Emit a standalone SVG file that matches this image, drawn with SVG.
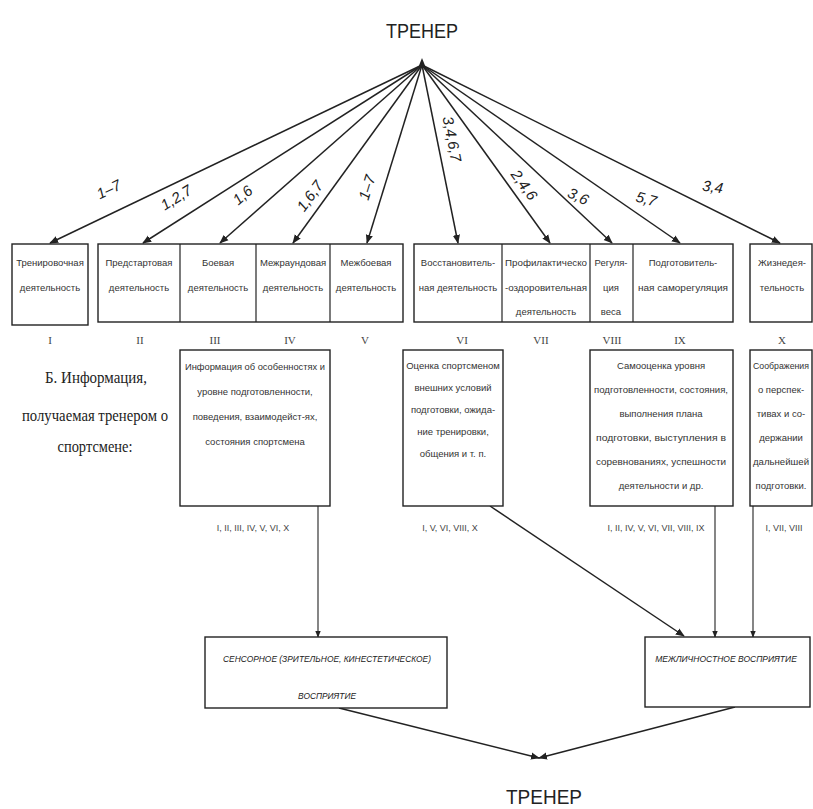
<svg xmlns="http://www.w3.org/2000/svg" width="813" height="809" viewBox="0 0 813 809">
<style>
.bx{fill:#fff;stroke:#222;stroke-width:1.4}
.dv{stroke:#222;stroke-width:1.2}
.t{font-family:"Liberation Sans",Arial,sans-serif;font-size:9.5px;fill:#333;text-anchor:middle}
.rn{font-family:"Liberation Serif",serif;font-size:11px;fill:#444;text-anchor:middle}
.cap{font-family:"Liberation Sans",Arial,sans-serif;font-size:9px;fill:#444;text-anchor:middle}
.lb{font-family:"Liberation Sans",Arial,sans-serif;font-size:15px;font-style:italic;fill:#222;text-anchor:middle}
.tr{font-family:"Liberation Sans",Arial,sans-serif;font-size:21px;fill:#222;text-anchor:middle}
.bi{font-family:"Liberation Sans",Arial,sans-serif;font-size:9.5px;font-style:italic;fill:#222;text-anchor:middle}
.big{font-family:"Liberation Serif",serif;font-size:17px;fill:#222;text-anchor:middle}
.c{stroke:#222;stroke-width:1.5;fill:none}
.c2{stroke:#222;stroke-width:1.1;fill:none}
</style>
<defs>
<marker id="ah" viewBox="0 0 10 10" refX="9" refY="5" markerWidth="7" markerHeight="7" markerUnits="userSpaceOnUse" orient="auto">
<path d="M0,1 L10,5 L0,9 z" fill="#222"/>
</marker>
<marker id="ahl" viewBox="0 0 10 10" refX="9" refY="5" markerWidth="9" markerHeight="9" markerUnits="userSpaceOnUse" orient="auto">
<path d="M0,1 L10,5 L0,9 z" fill="#222"/>
</marker>
</defs>

<g id="trener-top"><text class="tr" x="422" y="38" textLength="72" lengthAdjust="spacingAndGlyphs">ТРЕНЕР</text></g>

<g id="connectors">
<g id="top-arrows">
<line class="c" x1="422" y1="65" x2="50" y2="243" marker-end="url(#ahl)"/>
<line class="c" x1="422" y1="65" x2="143" y2="243" marker-end="url(#ahl)"/>
<line class="c" x1="422" y1="65" x2="220" y2="243" marker-end="url(#ahl)"/>
<line class="c" x1="422" y1="65" x2="293" y2="243" marker-end="url(#ahl)"/>
<line class="c" x1="422" y1="65" x2="367" y2="243" marker-end="url(#ahl)"/>
<line class="c" x1="422" y1="65" x2="458" y2="243" marker-end="url(#ahl)"/>
<line class="c" x1="422" y1="65" x2="550" y2="243" marker-end="url(#ahl)"/>
<line class="c" x1="422" y1="65" x2="612" y2="243" marker-end="url(#ahl)"/>
<line class="c" x1="422" y1="65" x2="680" y2="243" marker-end="url(#ahl)"/>
<line class="c" x1="422" y1="65" x2="780" y2="243" marker-end="url(#ahl)"/>
<path d="M418,68 L422,58 L426,68 z" fill="#222"/>
</g>
<g id="arrow-labels">
<text class="lb" transform="translate(111,194) rotate(-26)">1–7</text>
<text class="lb" transform="translate(179,202) rotate(-32)">1,2,7</text>
<text class="lb" transform="translate(246,199) rotate(-41)">1,6</text>
<text class="lb" transform="translate(314,199) rotate(-54)">1,6,7</text>
<text class="lb" transform="translate(372,189) rotate(-73)">1–7</text>
<text class="lb" transform="translate(447,140) rotate(79)">3,4,6,7</text>
<text class="lb" transform="translate(520,188) rotate(54)">2,4,6</text>
<text class="lb" transform="translate(576,201) rotate(25)">3,6</text>
<text class="lb" transform="translate(645,204) rotate(15)">5,7</text>
<text class="lb" transform="translate(712,192) rotate(8)">3,4</text>
</g>
<g id="lower-arrows">
<line class="c2" x1="318" y1="506" x2="318" y2="637" marker-end="url(#ah)"/>
<line class="c" x1="490" y1="506" x2="684" y2="636" marker-end="url(#ahl)"/>
<line class="c2" x1="715" y1="506" x2="715" y2="637" marker-end="url(#ah)"/>
<line class="c2" x1="753" y1="506" x2="753" y2="637" marker-end="url(#ah)"/>
<line class="c" x1="339" y1="708" x2="539" y2="758" marker-end="url(#ahl)"/>
<line class="c" x1="735" y1="707" x2="539" y2="758" marker-end="url(#ahl)"/>
</g>
</g>

<g id="node-I">
<rect class="bx" x="12" y="244" width="76" height="81"/>
<text class="t" x="50" y="266">Тренировочная</text>
<text class="t" x="50" y="291">деятельность</text>
<text class="rn" x="50" y="344">I</text>
</g>
<g id="nodes-II-V">
<rect class="bx" x="98" y="244" width="305" height="78"/>
<line class="dv" x1="180" y1="244" x2="180" y2="322"/>
<line class="dv" x1="256" y1="244" x2="256" y2="322"/>
<line class="dv" x1="330" y1="244" x2="330" y2="322"/>
<g id="node-II"><text class="t" x="139" y="266">Предстартовая</text><text class="t" x="139" y="291">деятельность</text><text class="rn" x="140" y="344">II</text></g>
<g id="node-III"><text class="t" x="218" y="266">Боевая</text><text class="t" x="218" y="291">деятельность</text><text class="rn" x="215" y="344">III</text></g>
<g id="node-IV"><text class="t" x="293" y="266">Межраундовая</text><text class="t" x="293" y="291">деятельность</text><text class="rn" x="290" y="344">IV</text></g>
<g id="node-V"><text class="t" x="366" y="266">Межбоевая</text><text class="t" x="366" y="291">деятельность</text><text class="rn" x="365" y="344">V</text></g>
</g>
<g id="nodes-VI-IX">
<rect class="bx" x="414" y="244" width="319" height="78"/>
<line class="dv" x1="502" y1="244" x2="502" y2="322"/>
<line class="dv" x1="590" y1="244" x2="590" y2="322"/>
<line class="dv" x1="633" y1="244" x2="633" y2="322"/>
<g id="node-VI"><text class="t" x="458" y="266">Восстановитель-</text><text class="t" x="458" y="291">ная деятельность</text><text class="rn" x="462" y="344">VI</text></g>
<g id="node-VII"><text class="t" x="546" y="266" textLength="82" lengthAdjust="spacingAndGlyphs">Профилактическо</text><text class="t" x="546" y="291" textLength="82" lengthAdjust="spacingAndGlyphs">-оздоровительная</text><text class="t" x="546" y="315">деятельность</text><text class="rn" x="541" y="344">VII</text></g>
<g id="node-VIII"><text class="t" x="611" y="266">Регуля-</text><text class="t" x="611" y="291">ция</text><text class="t" x="611" y="315">веса</text><text class="rn" x="612" y="344">VIII</text></g>
<g id="node-IX"><text class="t" x="683" y="266">Подготовитель-</text><text class="t" x="683" y="291" textLength="90" lengthAdjust="spacingAndGlyphs">ная саморегуляция</text><text class="rn" x="680" y="344">IX</text></g>
</g>
<g id="node-X">
<rect class="bx" x="750" y="244" width="62" height="78"/>
<text class="t" x="782" y="266">Жизнедея-</text>
<text class="t" x="782" y="291">тельность</text>
<text class="rn" x="782" y="344">X</text>
</g>

<g id="info-title">
<text class="big" x="96" y="383" textLength="102" lengthAdjust="spacingAndGlyphs">Б. Информация,</text>
<text class="big" x="95" y="421" textLength="146" lengthAdjust="spacingAndGlyphs">получаемая тренером о</text>
<text class="big" x="95" y="452" textLength="75" lengthAdjust="spacingAndGlyphs">спортсмене:</text>
</g>

<g id="info-A">
<rect class="bx" x="180" y="350" width="150" height="156"/>
<text class="t" x="255" y="370" textLength="140" lengthAdjust="spacingAndGlyphs">Информация об особенностях и</text>
<text class="t" x="255" y="395">уровне подготовленности,</text>
<text class="t" x="255" y="420">поведения, взаимодейст-ях,</text>
<text class="t" x="255" y="445">состояния спортсмена</text>
<text class="cap" x="253" y="531">I, II, III, IV, V, VI, X</text>
</g>
<g id="info-B">
<rect class="bx" x="403" y="350" width="100" height="156"/>
<text class="t" x="453" y="369">Оценка спортсменом</text>
<text class="t" x="453" y="391">внешних условий</text>
<text class="t" x="453" y="413">подготовки, ожида-</text>
<text class="t" x="453" y="435">ние тренировки,</text>
<text class="t" x="453" y="457">общения и т. п.</text>
<text class="cap" x="450" y="531">I, V, VI, VIII, X</text>
</g>
<g id="info-C">
<rect class="bx" x="590" y="350" width="143" height="156"/>
<text class="t" x="661" y="369">Самооценка уровня</text>
<text class="t" x="661" y="393" textLength="134" lengthAdjust="spacingAndGlyphs">подготовленности, состояния,</text>
<text class="t" x="661" y="417">выполнения плана</text>
<text class="t" x="661" y="441" textLength="130" lengthAdjust="spacingAndGlyphs">подготовки, выступления в</text>
<text class="t" x="661" y="465" textLength="130" lengthAdjust="spacingAndGlyphs">соревнованиях, успешности</text>
<text class="t" x="661" y="489">деятельности и др.</text>
<text class="cap" x="656" y="531">I, II, IV, V, VI, VII, VIII, IX</text>
</g>
<g id="info-D">
<rect class="bx" x="750" y="350" width="62" height="156"/>
<text class="t" x="781" y="369" textLength="56" lengthAdjust="spacingAndGlyphs">Соображения</text>
<text class="t" x="781" y="393">о перспек-</text>
<text class="t" x="781" y="417">тивах и со-</text>
<text class="t" x="781" y="441">держании</text>
<text class="t" x="781" y="465" textLength="56" lengthAdjust="spacingAndGlyphs">дальнейшей</text>
<text class="t" x="781" y="489">подготовки.</text>
<text class="cap" x="784" y="531">I, VII, VIII</text>
</g>

<g id="perception-sensory">
<rect class="bx" x="205" y="637" width="242" height="71"/>
<text class="bi" x="327" y="662" textLength="208" lengthAdjust="spacingAndGlyphs">СЕНСОРНОЕ (ЗРИТЕЛЬНОЕ, КИНЕСТЕТИЧЕСКОЕ)</text>
<text class="bi" x="327" y="699" textLength="58" lengthAdjust="spacingAndGlyphs">ВОСПРИЯТИЕ</text>
</g>
<g id="perception-interpersonal">
<rect class="bx" x="645" y="637" width="165" height="70"/>
<text class="bi" x="726" y="662" style="font-size:8.5px">МЕЖЛИЧНОСТНОЕ ВОСПРИЯТИЕ</text>
</g>

<g id="trener-bottom"><text class="tr" x="544" y="804" textLength="76" lengthAdjust="spacingAndGlyphs">ТРЕНЕР</text></g>
</svg>
